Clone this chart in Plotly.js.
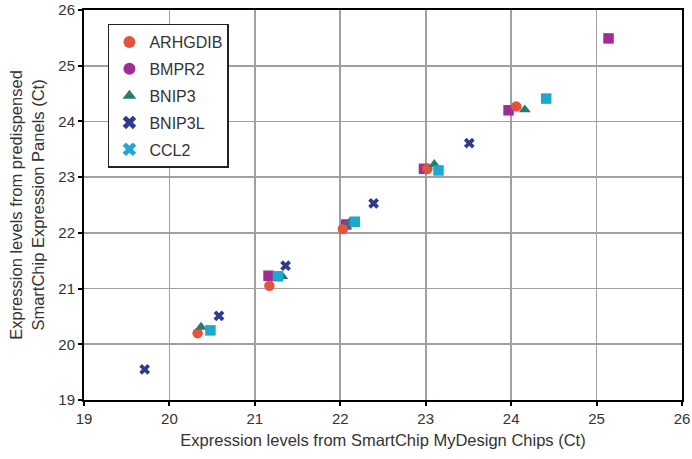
<!DOCTYPE html>
<html>
<head>
<meta charset="utf-8">
<script src="https://cdn.plot.ly/plotly-3.0.1.min.js"></script>
<style>html,body{margin:0;padding:0;background:#fff;}#chart{width:692px;height:459px;}</style>
</head>
<body>
<div id="chart"></div>
<script>
const seriesNames = ["ARHGDIB", "BMPR2", "BNIP3", "BNIP3L", "CCL2"];
const arhgdibX = [20.33, 21.17, 22.03, 23.02, 24.06];
const arhgdibY = [20.20, 21.05, 22.07, 23.15, 24.27];
const bmpr2X = [21.16, 22.07, 22.98, 23.97, 25.14];
const bmpr2Y = [21.23, 22.15, 23.15, 24.20, 25.49];
const bnip3X = [20.37, 21.32, 22.11, 23.10, 24.16];
const bnip3Y = [20.31, 21.22, 22.19, 23.23, 24.21];
const bnip3lX = [19.71, 20.58, 21.36, 22.39, 23.51];
const bnip3lY = [19.55, 20.51, 21.41, 22.53, 23.61];
const ccl2X = [20.48, 21.27, 22.17, 23.15, 24.41];
const ccl2Y = [20.25, 21.22, 22.20, 23.12, 24.41];
const tickVals = [19, 20, 21, 22, 23, 24, 25, 26];

const colors = ["#E4533B", "#A12C96", "#2A7B6F", "#2F3A8D", "#1CA8CF"];
const legendSymbols = ["circle", "circle", "triangle-up", "x", "x"];
const plotSymbols = ["circle", "square", "triangle-up", "x", "square"];
const xs = [arhgdibX, bmpr2X, bnip3X, bnip3lX, ccl2X];
const ys = [arhgdibY, bmpr2Y, bnip3Y, bnip3lY, ccl2Y];
const sizes = [10.5, 10.5, 10.5, 9.5, 10.5];

const traces = [];
// legend entries
seriesNames.forEach((n, i) => {
  traces.push({
    type: "scatter", mode: "markers", name: n, legendgroup: "g" + i,
    x: [null], y: [null],
    marker: {symbol: legendSymbols[i], color: colors[i], size: 13, line: {width: 0}},
    showlegend: true, hoverinfo: "skip"
  });
});
// data marks (drawing order)
const order = [1, 0, 2, 4, 3];
order.forEach(i => {
  traces.push({
    type: "scatter", mode: "markers", name: seriesNames[i], legendgroup: "g" + i,
    x: xs[i], y: ys[i],
    marker: {symbol: plotSymbols[i], color: colors[i], size: sizes[i], line: {width: 0}},
    showlegend: false
  });
});

const fontFam = "Liberation Sans, Arial, sans-serif";
const axisCommon = {
  tickvals: tickVals, ticktext: tickVals.map(String),
  showgrid: true, gridcolor: "#a0a0a0", gridwidth: 1.6,
  zeroline: false,
  showline: true, linecolor: "#000", linewidth: 2, mirror: true,
  ticks: "outside", ticklen: 4, tickwidth: 2, tickcolor: "#000",
  tickfont: {family: fontFam, size: 15, color: "#333"}
};

const layout = {
  width: 692, height: 459,
  margin: {l: 84, r: 10, t: 10, b: 59},
  paper_bgcolor: "#fff", plot_bgcolor: "#fff",
  font: {family: fontFam, color: "#333"},
  xaxis: Object.assign({}, axisCommon, {
    range: [19, 26],
    title: {text: "Expression levels from SmartChip MyDesign Chips (Ct)", font: {family: fontFam, size: 16.5, color: "#333"}, standoff: 8}
  }),
  yaxis: Object.assign({}, axisCommon, {
    range: [19, 26],
    title: {text: "Expression levels from predispensed<br>SmartChip Expression Panels (Ct)", font: {family: fontFam, size: 16.5, color: "#333"}, standoff: 10}
  }),
  legend: {
    x: 0.04, y: 0.965, xanchor: "left", yanchor: "top",
    bgcolor: "#fff", bordercolor: "#222", borderwidth: 1.5,
    font: {family: fontFam, size: 16, color: "#333"},
    tracegroupgap: 3, itemsizing: "constant"
  },
  showlegend: true
};

Plotly.newPlot("chart", traces, layout, {displayModeBar: false, staticPlot: true});
</script>
</body>
</html>
